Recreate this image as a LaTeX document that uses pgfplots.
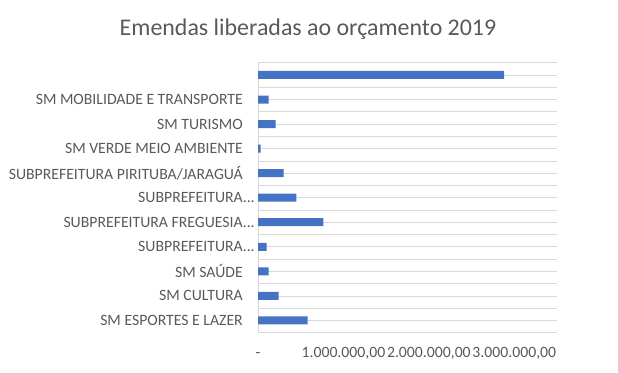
\documentclass[border=0pt]{standalone}
\usepackage{fontspec}
\setmainfont{Carlito}
\usepackage{pgfplots}
\pgfplotsset{compat=1.18}
\definecolor{barblue}{RGB}{68,114,196}
\definecolor{txtgray}{RGB}{89,89,89}
\definecolor{gridgray}{RGB}{217,217,217}
\begin{document}
\begin{tikzpicture}[x=1bp,y=1bp]
\useasboundingbox (0,0) rectangle (618,372);
\node[font=\fontsize{24}{28}\selectfont, text=txtgray] at (308,343) {Emendas liberadas ao orçamento 2019};
\begin{axis}[
  at={(258bp,39.3bp)}, anchor=south west,
  scale only axis, width=299bp, height=270bp,
  xbar, bar width=8bp,
  xmin=0, xmax=3500000,
  ymin=-0.5, ymax=10.5,
  ytick={0,...,10},
  yticklabels={SM ESPORTES E LAZER, SM CULTURA, SM SAÚDE, SUBPREFEITURA\rlap{...}, SUBPREFEITURA FREGUESIA\rlap{...}, SUBPREFEITURA\rlap{...}, SUBPREFEITURA PIRITUBA/JARAGUÁ, SM VERDE MEIO AMBIENTE, SM TURISMO, SM MOBILIDADE E TRANSPORTE, {}},
  minor ytick={-0.5,0.5,...,10.5},
  ymajorgrids, yminorgrids,
  major grid style={gridgray, line width=0.75bp},
  minor grid style={gridgray, line width=0.75bp},
  xtick={0,1000000,2000000,3000000},
  xticklabels={{-\hspace{8bp}},{1.000.000,00},{2.000.000,00},{3.000.000,00}},
  scaled x ticks=false,
  major tick length=0pt, minor tick length=0pt,
  axis lines*=left,
  x axis line style={draw=none},
  y axis line style={gridgray, line width=0.75bp},
  yticklabel style={font=\fontsize{15.8}{18}\selectfont, text=txtgray, inner sep=0pt, anchor=east},
  yticklabel shift=15bp,
  xticklabel style={font=\fontsize{15.8}{18}\selectfont, text=txtgray, inner sep=0pt, anchor=base, yshift=-25bp},
]
\addplot[fill=barblue, draw=none] coordinates {
(580000,0) (240000,1) (124000,2) (100000,3) (766000,4) (450000,5) (300000,6) (31000,7) (206000,8) (124000,9) (2880000,10)
};
\end{axis}
\end{tikzpicture}
\end{document}
